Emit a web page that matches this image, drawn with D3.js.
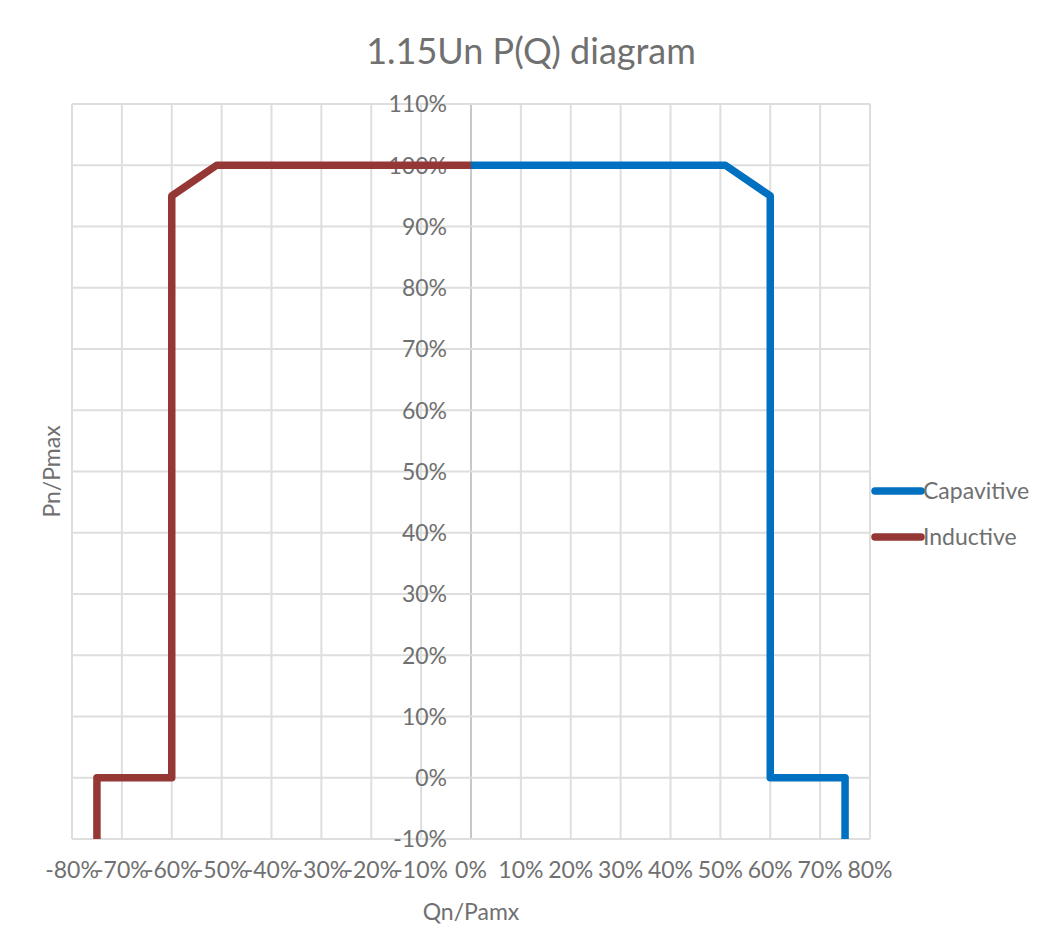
<!DOCTYPE html>
<html>
<head>
<meta charset="utf-8">
<script src="https://cdn.jsdelivr.net/npm/d3@7"></script>
<style>
  body { margin: 0; background: #fff; }
  text { font-family: Lato, "Open Sans", sans-serif; fill: #707070; }
</style>
</head>
<body>
<div id="chart"></div>
<script>
// Q/Pmax (%) and P/Pmax (%) pairs for each curve
const capacitiveQ = [0, 51, 60, 60, 75, 75];
const capacitiveP = [100, 100, 95, 0, 0, -10];
const inductiveQ = [-75, -75, -60, -60, -51, 0];
const inductiveP = [-10, 0, 0, 95, 100, 100];

const xTicks = [-80, -70, -60, -50, -40, -30, -20, -10, 0, 10, 20, 30, 40, 50, 60, 70, 80];
const yTicks = [-10, 0, 10, 20, 30, 40, 50, 60, 70, 80, 90, 100, 110];

const seriesNames = ["Capavitive", "Inductive"];
const seriesColors = ["#0070c0", "#953735"];

let width = 1038, height = 944;
let margin = { top: 104, right: 168, bottom: 105, left: 72 };

let svg = d3.select("#chart").append("svg")
    .attr("width", width)
    .attr("height", height);

let x = d3.scaleLinear().domain([-80, 80]).range([margin.left, width - margin.right]);
let y = d3.scaleLinear().domain([-10, 110]).range([height - margin.bottom, margin.top]);

// gridlines
svg.append("g")
    .selectAll("line")
    .data(xTicks)
    .join("line")
    .attr("x1", d => x(d)).attr("x2", d => x(d))
    .attr("y1", y(-10)).attr("y2", y(110))
    .attr("stroke", d => d == 0 ? "#c8c8c8" : "#dedede")
    .attr("stroke-width", 2);

svg.append("g")
    .selectAll("line")
    .data(yTicks)
    .join("line")
    .attr("x1", x(-80)).attr("x2", x(80))
    .attr("y1", d => y(d)).attr("y2", d => y(d))
    .attr("stroke", "#dedede")
    .attr("stroke-width", 2);

// y tick labels sit next to the Q = 0 axis
svg.append("g")
    .selectAll("text")
    .data(yTicks)
    .join("text")
    .attr("x", x(0) - 24)
    .attr("y", d => y(d))
    .attr("dy", "0.36em")
    .attr("text-anchor", "end")
    .attr("font-size", 23)
    .text(d => d + "%");

// x tick labels at the bottom
svg.append("g")
    .selectAll("text")
    .data(xTicks)
    .join("text")
    .attr("x", d => x(d))
    .attr("y", y(-10) + 39)
    .attr("text-anchor", "middle")
    .attr("font-size", 23)
    .text(d => d + "%");

let line = d3.line()
    .x(d => x(d[0]))
    .y(d => y(d[1]));

let series = [
    d3.zip(capacitiveQ, capacitiveP),
    d3.zip(inductiveQ, inductiveP)
];

svg.append("g")
    .selectAll("path")
    .data(series)
    .join("path")
    .attr("d", line)
    .attr("fill", "none")
    .attr("stroke", (d, i) => seriesColors[i])
    .attr("stroke-width", 7.5)
    .attr("stroke-linejoin", "round")
    .attr("stroke-linecap", "butt");

// title
svg.append("text")
    .attr("x", 531)
    .attr("y", 64)
    .attr("text-anchor", "middle")
    .attr("font-size", 36)
    .text("1.15Un P(Q) diagram");

// axis titles
svg.append("text")
    .attr("x", x(0))
    .attr("y", 920)
    .attr("text-anchor", "middle")
    .attr("font-size", 23)
    .text("Qn/Pamx");

svg.append("text")
    .attr("transform", "translate(60," + y(50) + ") rotate(-90)")
    .attr("text-anchor", "middle")
    .attr("font-size", 23)
    .text("Pn/Pmax");

// legend
let legend = svg.append("g")
    .selectAll("g")
    .data(seriesNames)
    .join("g")
    .attr("transform", (d, i) => "translate(875," + (491 + i * 46) + ")");

legend.append("line")
    .attr("x1", 0).attr("x2", 46)
    .attr("stroke", (d, i) => seriesColors[i])
    .attr("stroke-width", 7.5)
    .attr("stroke-linecap", "round");

legend.append("text")
    .attr("x", 48)
    .attr("dy", "0.36em")
    .attr("font-size", 23)
    .text(d => d);
</script>
</body>
</html>
